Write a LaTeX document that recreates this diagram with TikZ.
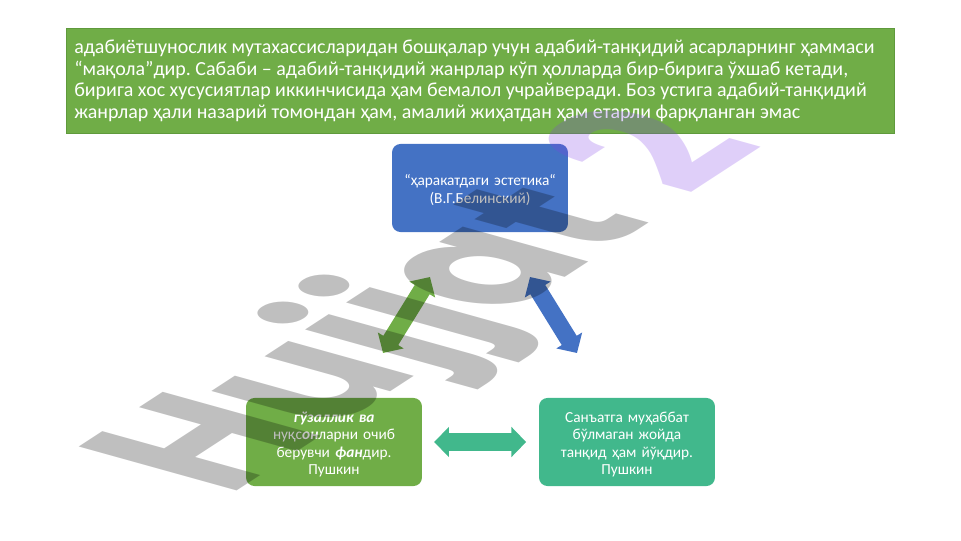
\documentclass[tikz,border=0pt]{standalone}
\usepackage{fontspec}
\usepackage{xcolor}
\usetikzlibrary{arrows.meta}
\setmainfont{Carlito}
\newfontfamily\markfont{Poppins}
\frenchspacing
\definecolor{leafgreen}{HTML}{70AD47}
\definecolor{leafedge}{HTML}{5F9A3C}
\definecolor{skyblue}{HTML}{4472C4}
\definecolor{seateal}{HTML}{41B88C}
\definecolor{markviolet}{RGB}{128,64,230}
\tikzset{
	card/.style={rounded corners=6pt, minimum width=125.1pt, minimum height=62.6pt, inner sep=2pt, text width=118pt, align=center, text=white, font=\fontsize{10.9}{12.5}\selectfont, execute at begin node={\rule{0pt}{11pt}}},
	twoway/.style={{Triangle[length=10.5pt,width=21pt]}-{Triangle[length=10.5pt,width=21pt]}, line width=12.5pt},
	markword/.style={anchor=base west, inner sep=0pt, font=\markfont\bfseries\fontsize{100}{100}\selectfont}
}
\begin{document}
\begin{tikzpicture}[x=0.025cm, y=-0.025cm]
	\useasboundingbox (0,0) rectangle (961,540);
	\node (intro) [anchor=north west, minimum width=588.7pt, minimum height=74.6pt, inner sep=0pt, fill=leafgreen, draw=leafedge, line width=0.5pt] at (66,28) {};
	\node (introtext) [anchor=west, inner sep=0pt, align=left, text=white, font=\fontsize{14.2}{15.3}\selectfont] at (74,81) {адабиётшунослик мутахассисларидан бошқалар учун адабий-танқидий асарларнинг ҳаммаси\\
		“мақола”дир. Сабаби – адабий-танқидий жанрлар кўп ҳолларда бир-бирига ўхшаб кетади,\\
		бирига хос хусусиятлар иккинчисида ҳам бемалол учрайверади. Боз устига адабий-танқидий\\
		жанрлар ҳали назарий томондан ҳам, амалий жиҳатдан ҳам етарли фарқланган эмас};
	\node (belinsky) [card, fill=skyblue] at (480,188) {“ҳаракатдаги эстетика“\\(В.Г.Белинский)};
	\node (pushkinleft) [card, fill=leafgreen] at (334,442) {\textbf{\textit{гўзаллик ва}}\\нуқс\textbf{\textit{он}}ларни очиб\\берувчи \textbf{\textit{фан}}дир.\\Пушкин};
	\node (pushkinright) [card, fill=seateal] at (627,442) {Санъатга муҳаббат\\бўлмаган жойда\\танқид ҳам йўқдир.\\Пушкин};
	% free ends of the two slanted arrows
	\coordinate (greentop) at (430,277);
	\coordinate (greenfoot) at (383,353);
	\coordinate (bluetop) at (530,277);
	\coordinate (bluefoot) at (577,353);
	\draw[twoway, leafgreen] (greentop) -- (greenfoot);
	\draw[twoway, skyblue] (bluetop) -- (bluefoot);
	\draw[twoway, seateal, shorten <=8.5pt, shorten >=9pt] (pushkinleft) -- (pushkinright);
	% watermark lies over everything
	\begin{scope}[cm={.983,.64,-1.6,.445,(228,497)}, transform shape]
		\node (markname) [markword, black, opacity=.25] at (0,0) {Hujjat};
		\node (marknumber) [markword, markviolet, opacity=.25, xshift=25pt] at (markname.base east) {2};
	\end{scope}
\end{tikzpicture}
\end{document}
